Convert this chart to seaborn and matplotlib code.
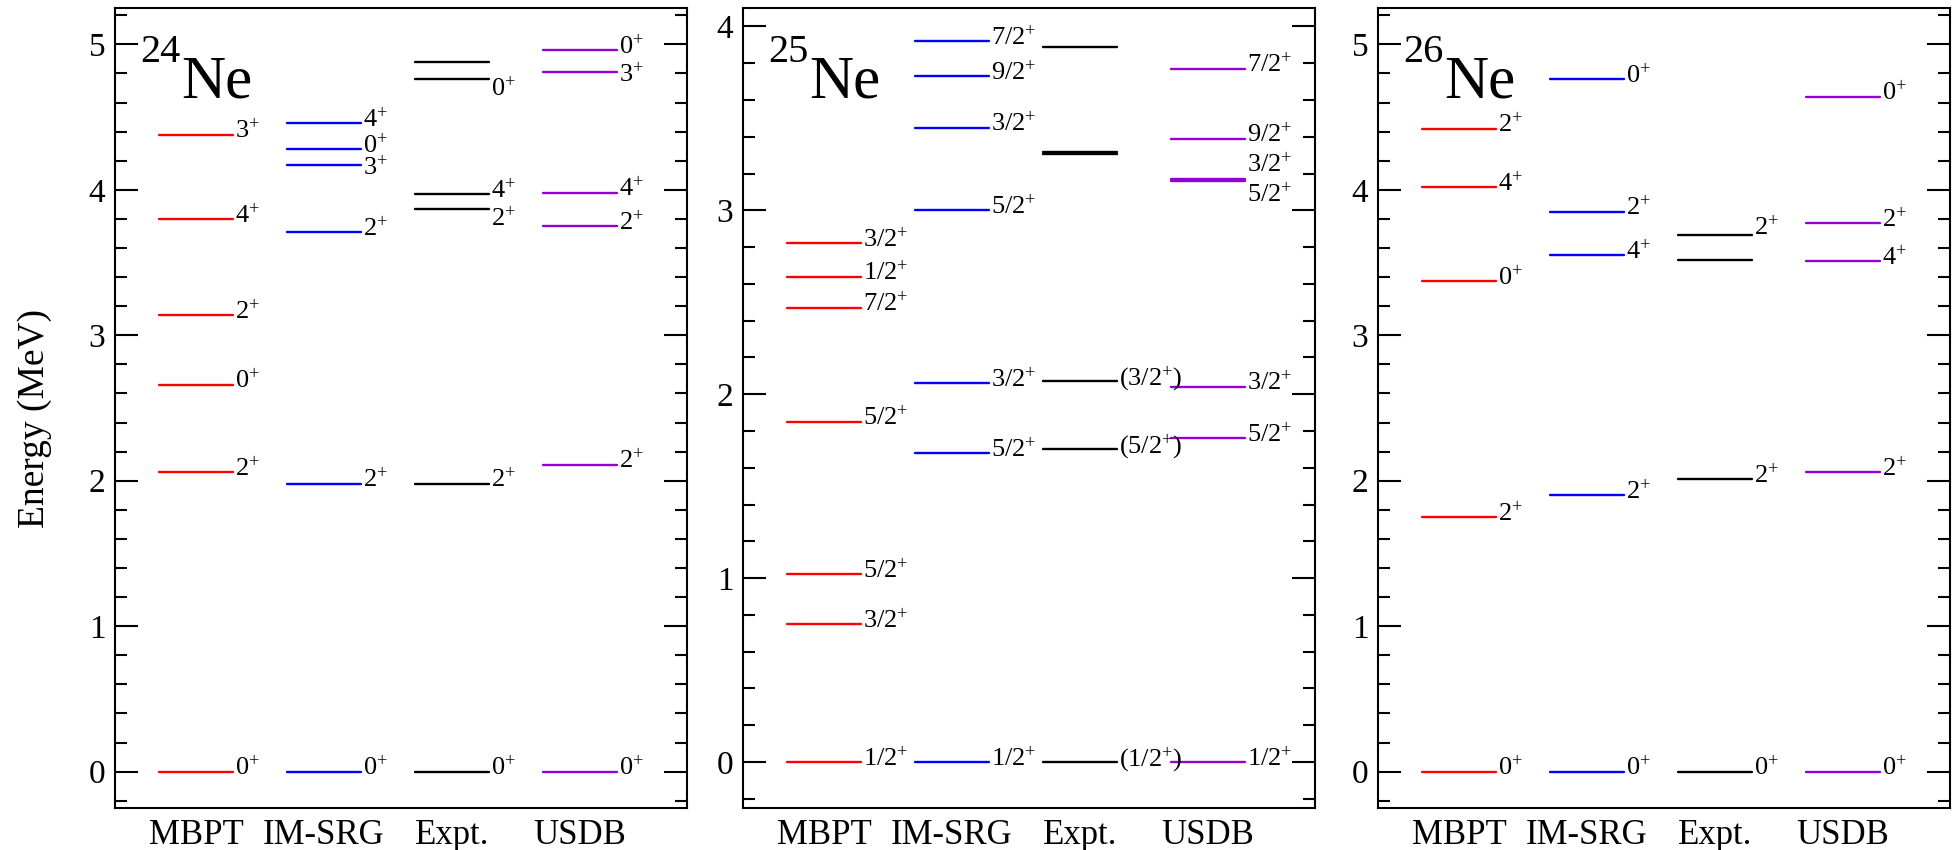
import matplotlib
matplotlib.use("Agg")
import matplotlib.pyplot as plt
from matplotlib.ticker import MultipleLocator
import pandas as pd
import seaborn as sns

METHODS = ["MBPT", "IM-SRG", "Expt.", "USDB"]
COLORS = {"MBPT": "#ff0000", "IM-SRG": "#0000ff", "Expt.": "#000000", "USDB": "#9400d3"}

# 24Ne levels (MeV) and spin-parity labels
mbpt_24 = [0.0, 2.06, 2.66, 3.14, 3.80, 4.38]
mbpt_24_lab = ["0+", "2+", "0+", "2+", "4+", "3+"]
imsrg_24 = [0.0, 1.98, 3.71, 4.17, 4.28, 4.46]
imsrg_24_lab = ["0+", "2+", "2+", "3+", "0+", "4+"]
expt_24 = [0.0, 1.98, 3.87, 3.97, 4.76, 4.88]
expt_24_lab = ["0+", "2+", "2+", "4+", "0+", ""]
usdb_24 = [0.0, 2.11, 3.75, 3.98, 4.81, 4.96]
usdb_24_lab = ["0+", "2+", "2+", "4+", "3+", "0+"]

# 25Ne
mbpt_25 = [0.0, 0.75, 1.02, 1.85, 2.47, 2.64, 2.82]
mbpt_25_lab = ["1/2+", "3/2+", "5/2+", "5/2+", "7/2+", "1/2+", "3/2+"]
imsrg_25 = [0.0, 1.68, 2.06, 3.00, 3.45, 3.73, 3.92]
imsrg_25_lab = ["1/2+", "5/2+", "3/2+", "5/2+", "3/2+", "9/2+", "7/2+"]
expt_25 = [0.0, 1.70, 2.07, 3.306, 3.318, 3.89]
expt_25_lab = ["(1/2+)", "(5/2+)", "(3/2+)", "", "", ""]
usdb_25 = [0.0, 1.76, 2.04, 3.158, 3.170, 3.39, 3.77]
usdb_25_lab = ["1/2+", "5/2+", "3/2+", "5/2+", "3/2+", "9/2+", "7/2+"]

# 26Ne
mbpt_26 = [0.0, 1.75, 3.37, 4.02, 4.42]
mbpt_26_lab = ["0+", "2+", "0+", "4+", "2+"]
imsrg_26 = [0.0, 1.90, 3.55, 3.85, 4.76]
imsrg_26_lab = ["0+", "2+", "4+", "2+", "0+"]
expt_26 = [0.0, 2.01, 3.52, 3.69]
expt_26_lab = ["0+", "2+", "", "2+"]
usdb_26 = [0.0, 2.06, 3.51, 3.77, 4.64]
usdb_26_lab = ["0+", "2+", "4+", "2+", "0+"]

PANELS = [
    ("24", (-0.25, 5.25), [(mbpt_24, mbpt_24_lab), (imsrg_24, imsrg_24_lab),
                           (expt_24, expt_24_lab), (usdb_24, usdb_24_lab)]),
    ("25", (-0.25, 4.1), [(mbpt_25, mbpt_25_lab), (imsrg_25, imsrg_25_lab),
                          (expt_25, expt_25_lab), (usdb_25, usdb_25_lab)]),
    ("26", (-0.25, 5.25), [(mbpt_26, mbpt_26_lab), (imsrg_26, imsrg_26_lab),
                           (expt_26, expt_26_lab), (usdb_26, usdb_26_lab)]),
]

# extra vertical nudges for crowded labels, in pixels (panel, method, level index)
NUDGE = {
    (0, "IM-SRG", 3): -6,
    (0, "Expt.", 4): -13,
    (0, "Expt.", 2): -14,
    (0, "USDB", 4): -6,
    (1, "USDB", 3): -17,
    (1, "USDB", 4): 11,
    (2, "Expt.", 3): 4,
}

HALF = 0.29
LEFTS = [115, 743, 1378]

sns.set_style("ticks")
plt.rcParams["font.family"] = "serif"
plt.rcParams["font.serif"] = ["Liberation Serif", "Times New Roman", "DejaVu Serif"]
plt.rcParams["mathtext.fontset"] = "custom"
plt.rcParams["mathtext.rm"] = "Liberation Serif"
plt.rcParams["mathtext.it"] = "Liberation Serif:italic"
plt.rcParams["mathtext.bf"] = "Liberation Serif:bold"
for key in ["text.color", "axes.labelcolor", "xtick.color", "ytick.color", "axes.edgecolor"]:
    plt.rcParams[key] = "black"

W, H = 1956, 850
fig = plt.figure(figsize=(W / 100, H / 100), dpi=100)


def fmt(lab):
    return lab.replace("+", r"$^{+}$")


for p, (mass, ylim, series) in enumerate(PANELS):
    ax = fig.add_axes([LEFTS[p] / W, 42 / H, 572 / W, 800 / H])

    rows = []
    for m, (vals, labs) in enumerate(series):
        for k, e in enumerate(vals):
            for x in (m - HALF, m + HALF):
                rows.append({"method": METHODS[m], "lid": f"{m}-{k}", "x": x, "energy": e})
    df = pd.DataFrame(rows)
    sns.lineplot(data=df, x="x", y="energy", hue="method", units="lid",
                 estimator=None, palette=COLORS, legend=False, lw=1.7, ax=ax)

    for m, (vals, labs) in enumerate(series):
        for k, (e, lab) in enumerate(zip(vals, labs)):
            if not lab:
                continue
            dy = -4 + NUDGE.get((p, METHODS[m], k), 0)
            ax.annotate(fmt(lab), xy=(m + HALF, e), xytext=(1.5, dy * 0.72),
                        textcoords="offset points", ha="left", va="baseline",
                        fontsize=19)

    ax.set_xlim(-0.633, 3.836)
    ax.set_ylim(*ylim)
    ax.set_xticks(range(4))
    ax.set_xticklabels(METHODS)
    ax.set_xlabel("")
    ax.set_ylabel("")
    ax.yaxis.set_major_locator(MultipleLocator(1))
    ax.yaxis.set_minor_locator(MultipleLocator(0.2))
    ax.tick_params(axis="y", which="both", direction="in", left=True, right=True,
                   width=1.5, labelsize=24, pad=7)
    ax.tick_params(axis="y", which="major", length=16.5)
    ax.tick_params(axis="y", which="minor", length=8.6)
    ax.tick_params(axis="x", length=0, labelsize=25, pad=8)
    for s in ax.spines.values():
        s.set_linewidth(1.5)
        s.set_color("black")

    ax.text(0.044, 0.9325, mass, transform=ax.transAxes, fontsize=29,
            ha="left", va="baseline")
    ax.text(0.1154, 0.8875, "Ne", transform=ax.transAxes, fontsize=44,
            ha="left", va="baseline")

fig.text(35 / W, 1 - 418 / H, "Energy (MeV)", rotation=90, fontsize=27,
         ha="center", va="center")

fig.savefig("out.png", dpi=100)
